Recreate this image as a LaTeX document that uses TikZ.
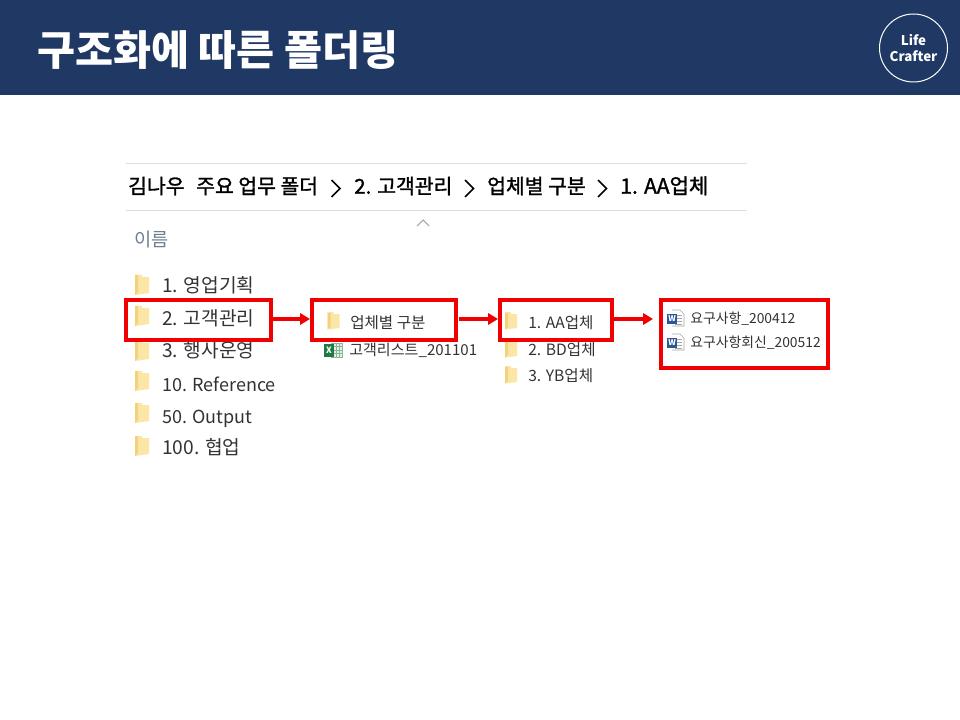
\documentclass[tikz,border=0pt]{standalone}
\usepackage{fontspec}
\setmainfont{Noto Sans CJK KR}
\newfontfamily\crumbf[FakeBold=1.4]{Noto Sans CJK KR}
\usetikzlibrary{arrows.meta}
\definecolor{barblue}{HTML}{1F3864}
\definecolor{redbox}{HTML}{F00000}
\definecolor{rulegray}{HTML}{DEDEDE}
\definecolor{headgray}{HTML}{6F7F92}
\definecolor{itemtext}{HTML}{333333}
\definecolor{foldA}{HTML}{FBE6A6}
\definecolor{foldB}{HTML}{F3D27E}
\definecolor{xlgreen}{HTML}{1F7A45}
\definecolor{wdblue}{HTML}{2B5797}
\newcommand{\fs}[1]{\fontsize{#1}{#1}\selectfont}
\tikzset{
  x=0.75pt,y=-0.75pt,
  lbl/.style={anchor=west,inner sep=0pt,text=itemtext},
  crumb/.style={anchor=west,inner sep=0pt,text=black,text height=13pt,text depth=3pt,font=\fs{15.3}\crumbf},
  big/.style={lbl,text height=14pt,text depth=3pt,font=\fs{14.4}},
  biglatin/.style={lbl,text height=14pt,text depth=3pt,font=\fs{13.5}},
  mid/.style={lbl,text height=11pt,text depth=2.5pt,font=\fs{11.7}},
  small/.style={lbl,text height=10pt,text depth=2pt,font=\fs{10.4}},
  redframe/.style={draw=redbox,line width=3pt,fill=none,inner sep=0pt,outer sep=0pt,anchor=north west},
  redarrow/.style={draw=redbox,line width=2.4pt,-{Triangle[length=7.5pt,width=8.5pt]}},
  chev/.style={draw=black,line width=1.1pt},
  pics/folder/.style={code={
    \fill[foldA] (-7,-10) -- (0,-10) -- (0,-8) -- (7,-8) -- (7,8) -- (-7,10) -- cycle;
    \fill[foldB] (-7,-10) -- (-4,-10) -- (-4,7) -- (-7,10) -- cycle;
  }},
  pics/smallfolder/.style={code={
    \fill[foldA] (-6,-8.5) -- (0,-9) -- (0,-7) -- (6,-7) -- (6,7) -- (-6,8.5) -- cycle;
    \fill[foldB] (-6,-8.5) -- (-3,-8.5) -- (-3,6) -- (-6,8.5) -- cycle;
  }},
  pics/xlicon/.style={code={
    \fill[xlgreen!12] (-2,-7) rectangle (9,7);
    \draw[xlgreen!55,line width=.5pt] (-2,-7) rectangle (9,7)
      (3.5,-7) -- (3.5,7) (6.5,-7) -- (6.5,7) (-2,-3.5) -- (9,-3.5) (-2,0) -- (9,0) (-2,3.5) -- (9,3.5);
    \fill[xlgreen] (-9,-6.5) rectangle (1,6.5);
    \node[inner sep=0pt,text=white,font=\fs{6.5}\bfseries] at (-4,0) {X};
  }},
  pics/wdicon/.style={code={
    \fill[white] (-3,-8) rectangle (9,8);
    \draw[gray!70,line width=.5pt] (-3,-8) -- (5,-8) -- (9,-4) -- (9,8) -- (-3,8);
    \draw[gray!70,line width=.5pt] (0,-3) -- (7,-3) (0,0) -- (7,0) (0,3) -- (7,3) (0,6) -- (7,6);
    \fill[wdblue] (-8,-4) rectangle (2,6);
    \node[inner sep=0pt,text=white,font=\fs{6}\bfseries] at (-3,1) {W};
  }},
}
\begin{document}
\begin{tikzpicture}
\useasboundingbox (0,0) rectangle (960,720);
\fill[white] (0,0) rectangle (960,720);
\fill[barblue] (0,0) rectangle (960,95);
\node[anchor=west,inner sep=0pt,text=white,font=\fs{31}\bfseries] (title) at (37,50) {구조화에 따른 폴더링};
\node[circle,draw=white,line width=.75pt,minimum size=51pt,inner sep=0pt,align=center,text=white,font=\fs{10}\bfseries] (logo) at (913.5,48) {\shortstack{Life\\[1pt]Crafter}};

\draw[rulegray,line width=.75pt] (126,163.5) -- (747,163.5);
\draw[rulegray,line width=.75pt] (126,210.5) -- (747,210.5);
\node[crumb] (c1) at (128,187) {김나우\hspace{.35em} 주요 업무 폴더};
\node[crumb] (c2) at (354,187) {2. 고객관리};
\node[crumb] (c3) at (487,187) {업체별 구분};
\node[crumb,font=\fs{15.8}\crumbf] (c4) at (620,187) {1. AA업체};
\draw[chev] (331.5,180) -- (340,188.5) -- (331.5,197);
\draw[chev] (465,180) -- (473.5,188.5) -- (465,197);
\draw[chev] (598,180) -- (606.5,188.5) -- (598,197);
\draw[gray!70,line width=.8pt] (417,226) -- (423,220) -- (429,226);
\node[lbl,text height=14pt,text depth=3pt,text=headgray,font=\fs{14}] (name) at (134,239) {이름};

\pic at (142,285) {folder};
\pic at (142,316) {folder};
\pic at (142,351) {folder};
\pic at (142,381) {folder};
\pic at (142,413) {folder};
\pic at (142,446) {folder};
\node[big] (a1) at (162,285) {1. 영업기획};
\node[big] (a2) at (162,318) {2. 고객관리};
\node[big] (a3) at (162,350) {3. 행사운영};
\node[biglatin] (a4) at (162,384) {10. Reference};
\node[biglatin] (a5) at (162,416) {50. Output};
\node[big] (a6) at (162,447) {100. 협업};

\pic at (333.5,321) {smallfolder};
\node[mid] (b1) at (350,323) {업체별 구분};
\pic at (333,350) {xlicon};
\node[mid,font=\fs{11.3}] (b2) at (349,350) {고객리스트\_201101};

\pic at (511,321) {smallfolder};
\pic at (511,349) {smallfolder};
\pic at (511,375) {smallfolder};
\node[mid] (d1) at (528,323) {1. AA업체};
\node[mid] (d2) at (528,350) {2. BD업체};
\node[mid] (d3) at (528,376) {3. YB업체};

\pic at (675,318) {wdicon};
\pic at (675,342) {wdicon};
\node[small] (e1) at (690,318) {요구사항\_200412};
\node[small] (e2) at (690,342) {요구사항회신\_200512};

\node[redframe,minimum width=108.75pt,minimum height=30pt] (r1) at (126,300) {};
\node[redframe,minimum width=108pt,minimum height=30pt] (r2) at (312,300) {};
\node[redframe,minimum width=84pt,minimum height=30pt] (r3) at (500,300) {};
\node[redframe,minimum width=125.25pt,minimum height=51pt] (r4) at (661,300) {};
\draw[redarrow,shorten <=1.5pt,shorten >=1.5pt] ([yshift=.75pt]r1.east) -- ([yshift=.75pt]r2.west);
\draw[redarrow,shorten <=2.25pt,shorten >=1.5pt] ([yshift=.75pt]r2.east) -- ([yshift=.75pt]r3.west);
\draw[redarrow,shorten <=1.5pt,shorten >=6pt] ([yshift=.75pt]r3.east) -- ([yshift=.75pt]r3.east -| r4.west);
\end{tikzpicture}
\end{document}
